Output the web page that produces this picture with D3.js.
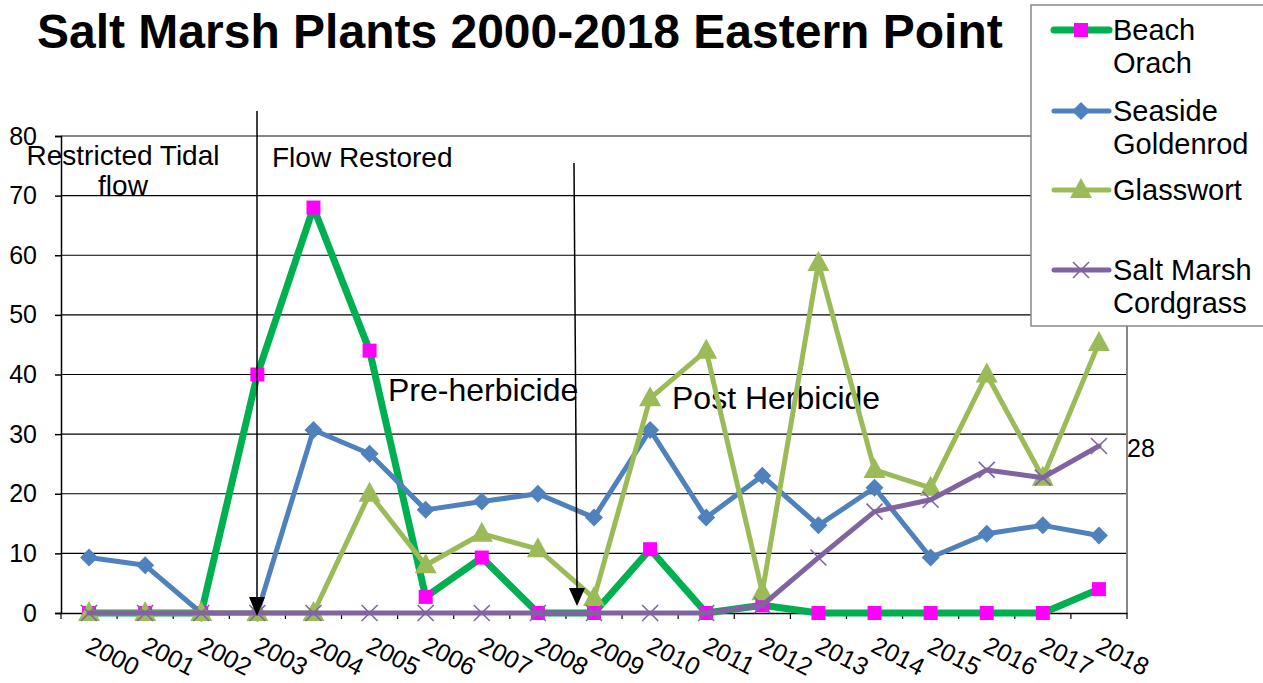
<!DOCTYPE html>
<html><head><meta charset="utf-8">
<script src="https://cdn.jsdelivr.net/npm/d3@7"></script>
<style>body{margin:0;background:#fff;}svg{display:block;font-family:"Liberation Sans",Arial,sans-serif;}</style>
</head><body>
<svg id="c" width="1263" height="683"></svg>
<script>
const years = ["2000","2001","2002","2003","2004","2005","2006","2007","2008","2009","2010","2011","2012","2013","2014","2015","2016","2017","2018"];
const beachOrach = [0,0,0,40,68,44,2.7,9.3,0,0,10.7,0,1.3,0,0,0,0,0,4];
const seasideGoldenrod = [9.3,8,0,0,30.7,26.7,17.3,18.7,20,16,30.7,16,23,14.7,21,9.3,13.3,14.7,13];
const glasswort = [0,0,0,0,0,20,8,13.3,10.7,2.5,36,44,3.5,58.7,24,21,40,22.7,45.3];
const cordgrass = [0,0,0,0,0,0,0,0,0,0,0,0,1.3,9.3,17,19,24,22.7,28];
const yTicks = [0,10,20,30,40,50,60,70,80];
const seriesNames = ["Beach\nOrach","Seaside\nGoldenrod","Glasswort","Salt Marsh\nCordgrass"];

const svg = d3.select("#c");
const L=61,R=1127,T=136,B=613;
const x = d3.scaleBand().domain(years).range([L,R]);
const cx = d => x(d)+x.bandwidth()/2;
const y = d3.scaleLinear().domain([0,80]).range([B,T]);

// title
svg.append("text").attr("x",37).attr("y",48).attr("font-size",48).attr("font-weight","bold").text("Salt Marsh Plants 2000-2018 Eastern Point");

// gridlines
svg.append("g").selectAll("line").data(yTicks.slice(1,-1)).join("line")
  .attr("x1",L).attr("x2",R).attr("y1",d=>y(d)).attr("y2",d=>y(d)).attr("stroke","#000").attr("stroke-width",1.2);
svg.append("line").attr("x1",L).attr("x2",R).attr("y1",T).attr("y2",T).attr("stroke","#888").attr("stroke-width",2);
svg.append("line").attr("x1",R).attr("x2",R).attr("y1",T).attr("y2",B).attr("stroke","#888").attr("stroke-width",2);

// y axis
const ya = svg.append("g").attr("transform",`translate(${L},0)`).call(d3.axisLeft(y).tickValues(yTicks).tickSize(6).tickPadding(18));
ya.select(".domain").attr("stroke","#000").attr("stroke-width",1.5);
ya.selectAll(".tick line").attr("stroke","#000").attr("stroke-width",1.5);
ya.selectAll("text").attr("font-size",25).attr("fill","#000").attr("font-family","Liberation Sans, Arial, sans-serif");

// x axis
const xa = svg.append("g").attr("transform",`translate(0,${B})`).call(d3.axisBottom(x).tickSize(0).tickFormat(""));
xa.select(".domain").attr("stroke","#000").attr("stroke-width",1.5);
svg.append("g").selectAll("line").data(years.concat(["end"])).join("line")
  .attr("x1",(d,i)=>i<years.length?x(d):R).attr("x2",(d,i)=>i<years.length?x(d):R)
  .attr("y1",B).attr("y2",B+6).attr("stroke","#000").attr("stroke-width",1.2);
svg.append("g").selectAll("text").data(years).join("text")
  .attr("transform",d=>`translate(${cx(d)-5},${B+38}) rotate(27)`)
  .attr("font-size",25).text(d=>d);

// annotations
const ann = svg.append("g").attr("fill","#000");
ann.append("text").attr("x",123).attr("y",165).attr("font-size",28).attr("text-anchor","middle").text("Restricted Tidal");
ann.append("text").attr("x",123).attr("y",195).attr("font-size",28).attr("text-anchor","middle").text("flow");
ann.append("text").attr("x",272).attr("y",167).attr("font-size",28).text("Flow Restored");
ann.append("text").attr("x",388).attr("y",401).attr("font-size",32).text("Pre-herbicide");
ann.append("text").attr("x",672).attr("y",409).attr("font-size",32).text("Post Herbicide");

// series
const line = d3.line().x((d,i)=>cx(years[i])).y(d=>y(d));
function drawSeries(vals,color,w,marker){
  svg.append("path").datum(vals).attr("d",line).attr("fill","none").attr("stroke",color).attr("stroke-width",w).attr("stroke-linejoin","round").attr("stroke-linecap","round");
  const g = svg.append("g");
  vals.forEach((v,i)=>marker(g,cx(years[i]),y(v)));
}
const sq=(g,px,py)=>g.append("rect").attr("x",px-7).attr("y",py-7).attr("width",14).attr("height",14).attr("fill","#FF00FF");
const dia=(g,px,py)=>g.append("path").attr("d",`M${px},${py-9}L${px+9},${py}L${px},${py+9}L${px-9},${py}Z`).attr("fill","#4F81BD");
const tri=(g,px,py)=>g.append("path").attr("d",`M${px},${py-12}L${px+11},${py+8}L${px-11},${py+8}Z`).attr("fill","#9BBB59");
const xm=(g,px,py)=>g.append("path").attr("d",`M${px-8},${py-8}L${px+8},${py+8}M${px-8},${py+8}L${px+8},${py-8}`).attr("stroke","#8064A2").attr("stroke-width",1.6);

drawSeries(beachOrach,"#00B050",7,sq);
drawSeries(seasideGoldenrod,"#4F81BD",5,dia);
drawSeries(glasswort,"#9BBB59",5,tri);
drawSeries(cordgrass,"#8064A2",5,xm);

// arrows
svg.append("line").attr("x1",257).attr("x2",257).attr("y1",111).attr("y2",600).attr("stroke","#000").attr("stroke-width",1.5);
svg.append("path").attr("d","M249,597L265,597L257,616Z").attr("fill","#000");
svg.append("line").attr("x1",574).attr("x2",577).attr("y1",163).attr("y2",590).attr("stroke","#000").attr("stroke-width",1.5);
svg.append("path").attr("d","M569,588L585,588L577,606Z").attr("fill","#000");

// data label 28
svg.append("text").attr("x",1127).attr("y",457).attr("font-size",25).text(cordgrass[cordgrass.length-1]);

// legend
const lg = svg.append("g");
lg.append("rect").attr("x",1031).attr("y",5).attr("width",240).attr("height",321).attr("fill","#fff").attr("stroke","#888").attr("stroke-width",1.5);
const legY=[30,111,190,270];
const colors=["#00B050","#4F81BD","#9BBB59","#8064A2"];
const widths=[7,5,5,5];
const markers=[sq,dia,tri,xm];
seriesNames.forEach((n,i)=>{
  lg.append("line").attr("x1",1054).attr("x2",1109).attr("y1",legY[i]).attr("y2",legY[i]).attr("stroke",colors[i]).attr("stroke-width",widths[i]).attr("stroke-linecap","round");
  markers[i](lg,1081,legY[i]);
  n.split("\n").forEach((t,j)=>{
    lg.append("text").attr("x",1113).attr("y",legY[i]+10+j*33).attr("font-size",29).text(t);
  });
});
</script>
</body></html>
